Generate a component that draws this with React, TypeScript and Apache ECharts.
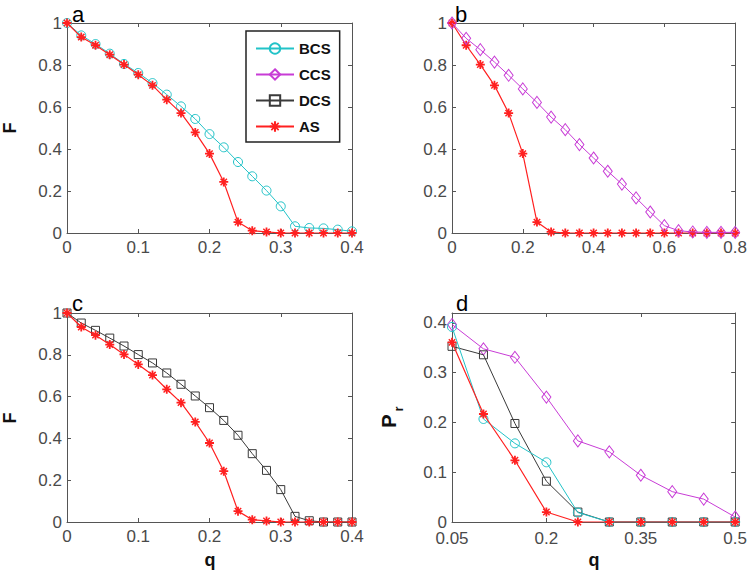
import React, { useEffect, useRef } from "react";
import * as echarts from "echarts";

// ---- Data ----
const qA = [0, 0.02, 0.04, 0.06, 0.08, 0.1, 0.12, 0.14, 0.16, 0.18, 0.2, 0.22, 0.24, 0.26, 0.28, 0.3, 0.32, 0.34, 0.36, 0.38, 0.4];
const bcsA = [1, 0.941, 0.9, 0.854, 0.805, 0.762, 0.714, 0.659, 0.603, 0.543, 0.471, 0.408, 0.338, 0.27, 0.202, 0.127, 0.032, 0.024, 0.022, 0.016, 0.008];
const asA = [1, 0.933, 0.894, 0.849, 0.802, 0.754, 0.703, 0.635, 0.571, 0.479, 0.378, 0.243, 0.052, 0.011, 0.005, 0, 0, 0, 0, 0, 0];

const qB = [0, 0.04, 0.08, 0.12, 0.16, 0.2, 0.24, 0.28, 0.32, 0.36, 0.4, 0.44, 0.48, 0.52, 0.56, 0.6, 0.64, 0.68, 0.72, 0.76, 0.8];
const ccsB = [1, 0.927, 0.873, 0.814, 0.751, 0.686, 0.622, 0.552, 0.492, 0.421, 0.357, 0.294, 0.233, 0.167, 0.1, 0.035, 0.011, 0.005, 0.003, 0.003, 0.003];
const asB = [1, 0.894, 0.802, 0.703, 0.571, 0.378, 0.052, 0.005, 0, 0, 0, 0, 0, 0, 0, 0, 0, 0, 0, 0, 0];

const qC = [0, 0.02, 0.04, 0.06, 0.08, 0.1, 0.12, 0.14, 0.16, 0.18, 0.2, 0.22, 0.24, 0.26, 0.28, 0.3, 0.32, 0.34, 0.36, 0.38, 0.4];
const dcsC = [1, 0.952, 0.917, 0.88, 0.842, 0.801, 0.761, 0.713, 0.659, 0.603, 0.547, 0.486, 0.415, 0.327, 0.247, 0.155, 0.027, 0.006, 0, 0, 0];
const asC = [1, 0.933, 0.894, 0.849, 0.802, 0.754, 0.703, 0.635, 0.571, 0.479, 0.378, 0.243, 0.052, 0.011, 0.005, 0, 0, 0, 0, 0, 0];

const qD = [0.05, 0.1, 0.15, 0.2, 0.25, 0.3, 0.35, 0.4, 0.45, 0.5];
const bcsD = [0.392, 0.207, 0.158, 0.12, 0.019, 0, 0, 0, 0, 0];
const ccsD = [0.397, 0.348, 0.331, 0.251, 0.163, 0.141, 0.094, 0.061, 0.046, 0.01];
const dcsD = [0.353, 0.336, 0.198, 0.082, 0.02, 0, 0, 0, 0, 0];
const asD = [0.361, 0.217, 0.124, 0.02, 0, 0, 0, 0, 0, 0];

const legendNames = ["BCS", "CCS", "DCS", "AS"];

// ---- Styles ----
const FONT = "'Liberation Sans', Arial, Helvetica, sans-serif";
const AXIS_COLOR = "#555";
const LABEL_COLOR = "#4a4a4a";
const CYAN = "#22c3c8";
const MAGENTA = "#c83cd6";
const DARK = "#3a3a3a";
const RED = "#ff2020";
const STAR =
  "path://M-1,-5L1,-5L1,5L-1,5Z M-5,-1L5,-1L5,1L-5,1Z M-2.97,-4.11L4.11,2.97L2.97,4.11L-4.11,-2.97Z M4.11,-2.97L-2.97,4.11L-4.11,2.97L2.97,-4.11Z";

const grids = [
  { left: 67, top: 23, width: 285, height: 210 },
  { left: 452, top: 23, width: 284, height: 210 },
  { left: 67, top: 313, width: 285, height: 209 },
  { left: 452, top: 313, width: 285, height: 209 },
];

const axisRanges = [
  { x: [0, 0.4, 0.1], y: [0, 1, 0.2] },
  { x: [0, 0.8, 0.2], y: [0, 1, 0.2] },
  { x: [0, 0.4, 0.1], y: [0, 1, 0.2] },
  { x: [0.05, 0.5, 0.15], y: [0, 0.42, 0.1] },
];

function fmt(v: number) {
  return String(Number(v.toFixed(3)));
}
function yFmtD(v: number) {
  const r = Math.round(v * 10) / 10;
  return Math.abs(r - v) < 1e-6 ? String(Number(r.toFixed(2))) : "";
}

const xAxes: any[] = [];
const yAxes: any[] = [];
axisRanges.forEach((r, i) => {
  const common = {
    type: "value",
    gridIndex: i,
    splitLine: { show: false },
    axisLine: { show: true, onZero: false, lineStyle: { color: AXIS_COLOR, width: 1 } },
    axisTick: { show: true, inside: true, length: 4, lineStyle: { color: AXIS_COLOR } },
  };
  const lbl = {
    show: true,
    color: LABEL_COLOR,
    fontFamily: FONT,
    fontSize: 17,
    showMinLabel: true,
    showMaxLabel: true,
    hideOverlap: false,
  };
  xAxes.push({
    ...common,
    position: "bottom",
    min: r.x[0],
    max: r.x[1],
    interval: r.x[2],
    axisLabel: { ...lbl, margin: i === 3 ? 9 : 7, lineHeight: 14, formatter: (v: number) => fmt(v) },
  });
  xAxes.push({
    ...common,
    position: "top",
    min: r.x[0],
    max: r.x[1],
    interval: r.x[2],
    axisLabel: { show: false },
  });
  yAxes.push({
    ...common,
    position: "left",
    min: r.y[0],
    max: r.y[1],
    interval: r.y[2],
    axisLabel: { ...lbl, margin: 5, lineHeight: 12, formatter: i === 3 ? yFmtD : (v: number) => fmt(v) },
  });
  yAxes.push({
    ...common,
    position: "right",
    min: r.y[0],
    max: r.y[1],
    interval: r.y[2],
    axisLabel: { show: false },
  });
});

function pairs(xs: number[], ys: number[]) {
  return xs.map((x, k) => [x, ys[k]]);
}

const styles: Record<string, any> = {
  BCS: {
    symbol: "circle",
    symbolSize: 9,
    lineStyle: { color: CYAN, width: 1 },
    itemStyle: { color: "rgba(255,255,255,0)", borderColor: CYAN, borderWidth: 1 },
  },
  CCS: {
    symbol: "diamond",
    symbolSize: [9, 12],
    lineStyle: { color: MAGENTA, width: 1 },
    itemStyle: { color: "rgba(255,255,255,0)", borderColor: MAGENTA, borderWidth: 1 },
  },
  DCS: {
    symbol: "rect",
    symbolSize: 8,
    lineStyle: { color: DARK, width: 1 },
    itemStyle: { color: "rgba(255,255,255,0)", borderColor: DARK, borderWidth: 1 },
  },
  AS: {
    symbol: STAR,
    symbolSize: 9,
    lineStyle: { color: RED, width: 1.2 },
    itemStyle: { color: RED, borderWidth: 0 },
  },
};

function mk(name: string, gi: number, xs: number[], ys: number[], z: number) {
  return {
    type: "line",
    name,
    xAxisIndex: gi * 2,
    yAxisIndex: gi * 2,
    data: pairs(xs, ys),
    showSymbol: true,
    symbolKeepAspect: true,
    z,
    ...styles[name],
  };
}

const series = [
  mk("BCS", 0, qA, bcsA, 2),
  mk("AS", 0, qA, asA, 3),
  mk("AS", 1, qB, asB, 2),
  mk("CCS", 1, qB, ccsB, 3),
  mk("DCS", 2, qC, dcsC, 2),
  mk("AS", 2, qC, asC, 3),
  mk("CCS", 3, qD, ccsD, 2),
  mk("DCS", 3, qD, dcsD, 3),
  mk("BCS", 3, qD, bcsD, 4),
  mk("AS", 3, qD, asD, 5),
];

const letterStyle = { fontFamily: FONT, fontSize: 22, fill: "#000" };
const nameStyle = { fontFamily: FONT, fontSize: 18, fontWeight: "bold", fill: "#111" };

const graphic: any[] = [
  { type: "text", x: 72, y: 25, style: { ...letterStyle, text: "a", verticalAlign: "bottom" } },
  { type: "text", x: 455, y: 25, style: { ...letterStyle, text: "b", verticalAlign: "bottom" } },
  { type: "text", x: 72, y: 314, style: { ...letterStyle, text: "c", verticalAlign: "bottom" } },
  { type: "text", x: 456, y: 314, style: { ...letterStyle, text: "d", verticalAlign: "bottom" } },
  { type: "text", x: 10, y: 128, rotation: Math.PI / 2, style: { ...nameStyle, text: "F", align: "center", verticalAlign: "middle" } },
  { type: "text", x: 10, y: 418, rotation: Math.PI / 2, style: { ...nameStyle, text: "F", align: "center", verticalAlign: "middle" } },
  { type: "text", x: 210, y: 560, style: { ...nameStyle, text: "q", align: "center", verticalAlign: "middle" } },
  { type: "text", x: 594, y: 560, style: { ...nameStyle, text: "q", align: "center", verticalAlign: "middle" } },
  { type: "text", x: 389, y: 421, rotation: Math.PI / 2, style: { ...nameStyle, fontSize: 20, text: "P", align: "center", verticalAlign: "middle" } },
  { type: "text", x: 398, y: 409, rotation: Math.PI / 2, style: { ...nameStyle, fontSize: 13, text: "r", align: "center", verticalAlign: "middle" } },
];

const option: any = {
  animation: false,
  backgroundColor: "#fff",
  grid: grids.map((g) => ({ ...g, containLabel: false })),
  xAxis: xAxes,
  yAxis: yAxes,
  series,
  legend: {
    data: legendNames,
    orient: "vertical",
    left: 246,
    top: 31,
    padding: [10, 9, 8, 9],
    itemWidth: 38,
    itemHeight: 13,
    itemGap: 11,
    borderColor: "#222",
    borderWidth: 1.5,
    backgroundColor: "#fff",
    selectedMode: false,
    textStyle: { fontFamily: FONT, fontWeight: "bold", fontSize: 15, color: "#111" },
  },
  graphic,
};

export default function App() {
  const ref = useRef<HTMLDivElement>(null);
  useEffect(() => {
    const chart = echarts.init(ref.current!, null, { renderer: "svg" });
    chart.setOption(option);
    return () => chart.dispose();
  }, []);
  return (
    <div
      ref={ref}
      style={{ position: "absolute", left: 0, top: 0, width: 750, height: 578, background: "#fff" }}
    />
  );
}
